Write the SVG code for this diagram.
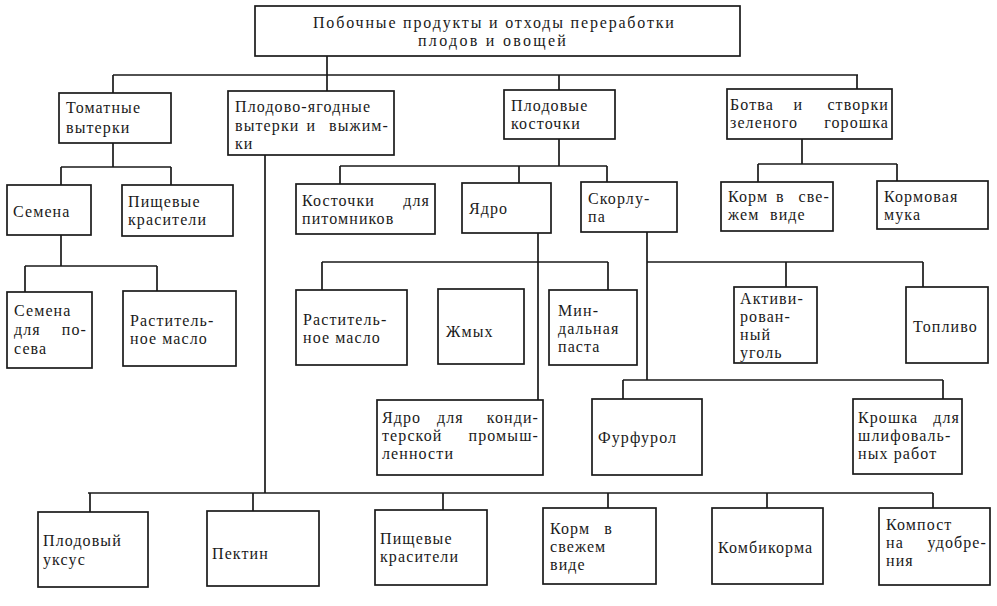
<svg xmlns="http://www.w3.org/2000/svg" width="997" height="606" viewBox="0 0 997 606">
<style>
.box{fill:#fff;stroke:#1a1a1a;stroke-width:1.7}
.c{stroke:#1a1a1a;stroke-width:1.7;fill:none}
text{font-family:"Liberation Serif","Times New Roman",serif;font-size:16px;fill:#1a1a1a;letter-spacing:1.1px}
.m{text-anchor:middle}
.e{text-anchor:end}
</style>
<rect width="997" height="606" fill="#fff"/>
<g id="connectors">
<path class="c" d="M327,56V75 M113,75H858 M113,75V93 M327,75V91 M559,75V90 M857,75V89"/>
<path class="c" d="M113,143V167 M61,167H171 M61,167V185 M171,167V185"/>
<path class="c" d="M61,235V266 M25,266H157 M25,266V292 M157,266V291"/>
<path class="c" d="M265,155V493 M88,493H933 M90,493V512 M253,493V511 M443,493V510 M608,493V508 M767,493V508 M933,493V508"/>
<path class="c" d="M559,139V166 M340,166H607 M340,166V184 M519,166V183 M607,166V182"/>
<path class="c" d="M538,233V400 M322,262H608 M322,262V290 M608,262V290"/>
<path class="c" d="M647,232V380 M647,262H923 M786,262V287 M923,262V287"/>
<path class="c" d="M623,380H943 M623,380V399 M943,380V399"/>
<path class="c" d="M802,139V164 M758,164H897 M758,164V182 M897,164V181"/>
</g>
<g id="n-title"><rect class="box" x="255" y="6" width="485" height="50"/>
<text x="313" y="28" textLength="362" lengthAdjust="spacing">Побочные продукты и отходы переработки</text>
<text x="418" y="46" textLength="149" lengthAdjust="spacing">плодов и овощей</text></g>
<g id="n-tomat"><rect class="box" x="59" y="93" width="112" height="50"/>
<text x="66" y="113">Томатные</text><text x="66" y="133">вытерки</text></g>
<g id="n-plodovo"><rect class="box" x="228" y="91" width="166" height="64"/>
<text x="235" y="112">Плодово-ягодные</text>
<text y="131"><tspan x="235">вытерки</tspan> <tspan x="314" class="m">и</tspan> <tspan x="389" class="e">выжим-</tspan></text>
<text x="235" y="149">ки</text></g>
<g id="n-kostochki"><rect class="box" x="504" y="90" width="111" height="49"/>
<text x="511" y="111">Плодовые</text><text x="511" y="129">косточки</text></g>
<g id="n-botva"><rect class="box" x="727" y="89" width="165" height="50"/>
<text y="110"><tspan x="730">Ботва</tspan> <tspan x="801" class="m">и</tspan> <tspan x="889" class="e">створки</tspan></text>
<text y="128"><tspan x="730">зеленого</tspan> <tspan x="889" class="e">горошка</tspan></text></g>
<g id="n-semena"><rect class="box" x="7" y="185" width="84" height="50"/>
<text x="13" y="217">Семена</text></g>
<g id="n-pishch1"><rect class="box" x="122" y="185" width="111" height="51"/>
<text x="128" y="207">Пищевые</text><text x="128" y="225">красители</text></g>
<g id="n-semena-posev"><rect class="box" x="7" y="292" width="85" height="76"/>
<text x="14" y="316">Семена</text>
<text y="335"><tspan x="14">для</tspan> <tspan x="87" class="e">по-</tspan></text>
<text x="14" y="354">сева</text></g>
<g id="n-rast1"><rect class="box" x="123" y="291" width="113" height="75"/>
<text x="130" y="326">Раститель-</text><text x="130" y="344">ное масло</text></g>
<g id="n-kost-pit"><rect class="box" x="296" y="184" width="139" height="50"/>
<text y="206"><tspan x="302">Косточки</tspan> <tspan x="430" class="e">для</tspan></text>
<text x="302" y="224">питомников</text></g>
<g id="n-yadro"><rect class="box" x="462" y="183" width="89" height="50"/>
<text x="469" y="214">Ядро</text></g>
<g id="n-skorlupa"><rect class="box" x="581" y="182" width="96" height="50"/>
<text x="588" y="204">Скорлу-</text><text x="588" y="222">па</text></g>
<g id="n-korm-top"><rect class="box" x="721" y="182" width="112" height="49"/>
<text y="202"><tspan x="728">Корм</tspan> <tspan x="783" class="m">в</tspan> <tspan x="830" class="e">све-</tspan></text>
<text y="220"><tspan x="728">жем</tspan> <tspan x="770">виде</tspan></text></g>
<g id="n-kormovaya"><rect class="box" x="877" y="181" width="111" height="48"/>
<text x="884" y="202">Кормовая</text><text x="884" y="220">мука</text></g>
<g id="n-rast2"><rect class="box" x="296" y="290" width="111" height="75"/>
<text x="303" y="325">Раститель-</text><text x="303" y="343">ное масло</text></g>
<g id="n-zhmyh"><rect class="box" x="438" y="289" width="86" height="75"/>
<text x="446" y="337">Жмых</text></g>
<g id="n-mindal"><rect class="box" x="549" y="290" width="88" height="75"/>
<text x="558" y="316">Мин-</text><text x="558" y="334">дальная</text><text x="558" y="352">паста</text></g>
<g id="n-activ"><rect class="box" x="734" y="287" width="83" height="76"/>
<text x="740" y="304">Активи-</text><text x="740" y="322">рован-</text><text x="740" y="340">ный</text><text x="740" y="358">уголь</text></g>
<g id="n-toplivo"><rect class="box" x="906" y="287" width="82" height="76"/>
<text x="913" y="332">Топливо</text></g>
<g id="n-yadro-kond"><rect class="box" x="377" y="400" width="166" height="75"/>
<text y="423"><tspan x="382">Ядро</tspan> <tspan x="453" class="m">для</tspan> <tspan x="539" class="e">конди-</tspan></text>
<text y="441"><tspan x="382">терской</tspan> <tspan x="539" class="e">промыш-</tspan></text>
<text x="382" y="459">ленности</text></g>
<g id="n-furfurol"><rect class="box" x="592" y="399" width="110" height="76"/>
<text x="598" y="443">Фурфурол</text></g>
<g id="n-kroshka"><rect class="box" x="853" y="399" width="109" height="75"/>
<text y="423"><tspan x="858">Крошка</tspan> <tspan x="960" class="e">для</tspan></text>
<text x="858" y="441">шлифоваль-</text><text x="858" y="459">ных работ</text></g>
<g id="n-uksus"><rect class="box" x="38" y="512" width="110" height="75"/>
<text x="43" y="546">Плодовый</text><text x="43" y="565">уксус</text></g>
<g id="n-pektin"><rect class="box" x="207" y="511" width="112" height="75"/>
<text x="212" y="559">Пектин</text></g>
<g id="n-pishch2"><rect class="box" x="375" y="510" width="112" height="75"/>
<text x="380" y="544">Пищевые</text><text x="380" y="562">красители</text></g>
<g id="n-korm-bot"><rect class="box" x="543" y="508" width="113" height="76"/>
<text y="534"><tspan x="550">Корм</tspan> <tspan x="613" class="e">в</tspan></text>
<text x="550" y="552">свежем</text><text x="550" y="570">виде</text></g>
<g id="n-kombikorm"><rect class="box" x="712" y="508" width="111" height="76"/>
<text x="718" y="553">Комбикорма</text></g>
<g id="n-kompost"><rect class="box" x="879" y="508" width="111" height="77"/>
<text x="886" y="530">Компост</text>
<text y="548"><tspan x="886">на</tspan> <tspan x="987" class="e">удобре-</tspan></text>
<text x="886" y="566">ния</text></g>
</svg>
